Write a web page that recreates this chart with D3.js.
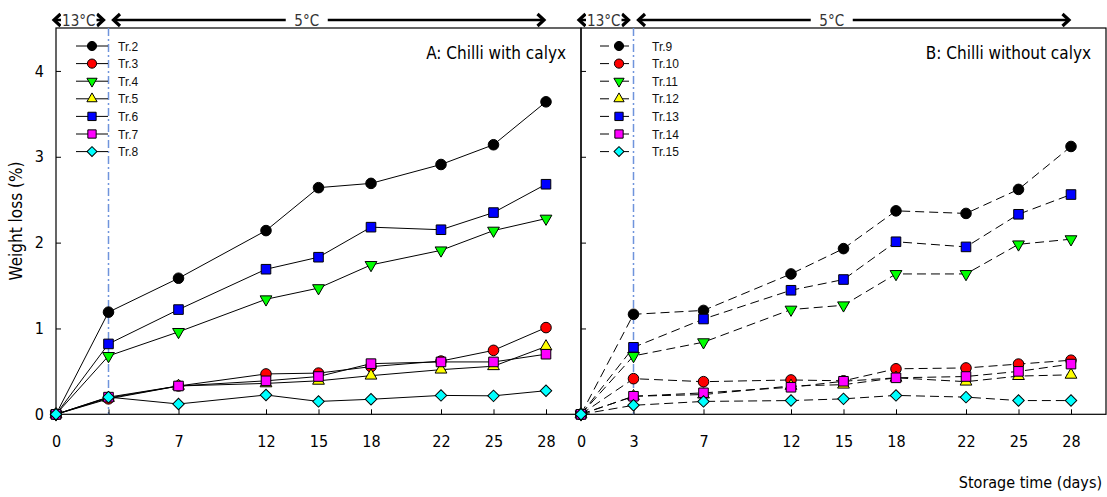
<!DOCTYPE html>
<html>
<head>
<meta charset="utf-8">
<script src="https://cdn.jsdelivr.net/npm/d3@7"></script>
<style>
  body { margin: 0; background: #fff; }
  svg { display: block; }
</style>
</head>
<body>
<svg id="chart"></svg>
<script>
// weight loss data
var days = [0, 3, 7, 12, 15, 18, 22, 25, 28];

// A: chilli with calyx
var tr2 = [0, 1.19, 1.585, 2.14, 2.64, 2.69, 2.91, 3.14, 3.64];
var tr3 = [0, 0.18, 0.33, 0.47, 0.48, 0.555, 0.62, 0.745, 1.01];
var tr4 = [0, 0.68, 0.96, 1.34, 1.47, 1.74, 1.91, 2.14, 2.28];
var tr5 = [0, 0.19, 0.33, 0.36, 0.39, 0.45, 0.52, 0.56, 0.79];
var tr6 = [0, 0.82, 1.22, 1.69, 1.83, 2.18, 2.15, 2.35, 2.68];
var tr7 = [0, 0.2, 0.33, 0.39, 0.44, 0.59, 0.61, 0.61, 0.70];
var tr8 = [0, 0.2, 0.12, 0.225, 0.15, 0.175, 0.22, 0.215, 0.275];

// B: chilli without calyx
var tr9  = [0, 1.165, 1.21, 1.635, 1.93, 2.37, 2.34, 2.62, 3.12];
var tr10 = [0, 0.415, 0.38, 0.40, 0.39, 0.53, 0.54, 0.585, 0.63];
var tr11 = [0, 0.68, 0.84, 1.22, 1.27, 1.635, 1.635, 1.98, 2.04];
var tr12 = [0, 0.21, 0.23, 0.33, 0.345, 0.425, 0.38, 0.445, 0.46];
var tr13 = [0, 0.78, 1.11, 1.445, 1.57, 2.01, 1.95, 2.33, 2.56];
var tr14 = [0, 0.21, 0.25, 0.315, 0.385, 0.425, 0.44, 0.50, 0.585];
var tr15 = [0, 0.105, 0.15, 0.16, 0.18, 0.22, 0.20, 0.16, 0.16];

var namesA = ['Tr.2', 'Tr.3', 'Tr.4', 'Tr.5', 'Tr.6', 'Tr.7', 'Tr.8'];
var namesB = ['Tr.9', 'Tr.10', 'Tr.11', 'Tr.12', 'Tr.13', 'Tr.14', 'Tr.15'];
var yTicks = [0, 1, 2, 3, 4];

var fills = ['#000000', '#ff0000', '#00ff00', '#ffff00', '#0000ff', '#ff00ff', '#00ffff'];
var shapes = ['circle', 'circle', 'down', 'up', 'square', 'square', 'diamond'];

var width = 1107;
var height = 497;
var plotTop = 28;
var plotBottom = 414.3;

var font = '"DejaVu Sans Condensed", "DejaVu Sans", sans-serif';

var svg = d3.select('#chart')
  .attr('width', width)
  .attr('height', height);

var yScale = d3.scaleLinear()
  .domain([0, 4.5])
  .range([plotBottom, plotTop]);

function markerPath(shape, s) {
  s = s || 1;
  if (shape === 'circle') return d3.symbol(d3.symbolCircle, 88 * s)();
  if (shape === 'square') return d3.symbol(d3.symbolSquare, 92 * s)();
  if (shape === 'up' || shape === 'down') return d3.symbol(d3.symbolTriangle, 60 * s)();
  return d3.symbol(d3.symbolSquare, 66 * s)();
}
function markerRotate(shape) {
  if (shape === 'down') return ' rotate(180)';
  if (shape === 'diamond') return ' rotate(45)';
  return '';
}

function arrow(g, x1, x2, y) {
  g.append('line')
    .attr('x1', x1).attr('x2', x2).attr('y1', y).attr('y2', y)
    .attr('stroke', '#000').attr('stroke-width', 2.5);
  g.append('path')
    .attr('d', `M${x1 + 6.5},${y - 6}L${x1},${y}L${x1 + 6.5},${y + 6}`)
    .attr('fill', 'none').attr('stroke', '#000').attr('stroke-width', 3.2);
  g.append('path')
    .attr('d', `M${x2 - 6.5},${y - 6}L${x2},${y}L${x2 - 6.5},${y + 6}`)
    .attr('fill', 'none').attr('stroke', '#000').attr('stroke-width', 3.2);
}

function panel(left, right, series, names, dashed, title, showLabels) {
  var xScale = d3.scaleLinear()
    .domain([0, 30])
    .range([left, right]);

  var g = svg.append('g');

  // 13 / 5 degree arrows above the frame
  var ay = 20;
  var a1 = xScale(0) - 2, a2 = xScale(3) - 5;
  var b1 = xScale(3) + 5, b2 = xScale(28) - 2;
  var mid = (b1 + b2) / 2 - 22;
  arrow(g, a1, a2, ay);
  g.append('rect')
    .attr('x', a1 + 7).attr('y', ay - 9).attr('width', a2 - a1 - 14).attr('height', 18)
    .attr('fill', '#fff');
  g.append('text')
    .attr('x', (a1 + a2) / 2).attr('y', ay + 5.5)
    .attr('text-anchor', 'middle')
    .style('font-family', font).style('font-size', '15px').attr('fill', '#333')
    .text('13\u00B0C');
  arrow(g, b1, b2, ay);
  g.append('rect')
    .attr('x', mid - 21).attr('y', ay - 9).attr('width', 42).attr('height', 18)
    .attr('fill', '#fff');
  g.append('text')
    .attr('x', mid).attr('y', ay + 5.5)
    .attr('text-anchor', 'middle')
    .style('font-family', font).style('font-size', '15px').attr('fill', '#333')
    .text('5\u00B0C');

  // frame
  g.append('rect')
    .attr('x', left).attr('y', plotTop)
    .attr('width', right - left).attr('height', plotBottom - plotTop)
    .attr('fill', 'none').attr('stroke', '#000').attr('stroke-width', 1.2);

  // day 3 reference line
  g.append('line')
    .attr('x1', xScale(3)).attr('x2', xScale(3))
    .attr('y1', plotTop).attr('y2', plotBottom)
    .attr('stroke', '#6f94dc').attr('stroke-width', 1.5)
    .attr('stroke-dasharray', '8,3,2,3');

  var xAxis = d3.axisBottom(xScale)
    .tickValues(days)
    .tickSize(-5)
    .tickPadding(21);
  var gx = g.append('g')
    .attr('transform', `translate(0,${plotBottom})`)
    .call(xAxis);
  gx.select('.domain').remove();
  gx.selectAll('text').style('font-family', font).style('font-size', '16px').attr('fill', '#000');

  var yAxis = d3.axisLeft(yScale)
    .tickValues(yTicks)
    .tickSize(-5)
    .tickPadding(12)
    .tickFormat(showLabels ? d3.format('d') : '');
  var gy = g.append('g')
    .attr('transform', `translate(${left},0)`)
    .call(yAxis);
  gy.select('.domain').remove();
  gy.selectAll('text').style('font-family', font).style('font-size', '16px').attr('fill', '#000');

  var line = d3.line()
    .x((d, i) => xScale(days[i]))
    .y(d => yScale(d));

  series.forEach(function (vals, k) {
    g.append('path')
      .datum(vals)
      .attr('d', line)
      .attr('fill', 'none')
      .attr('stroke', '#000')
      .attr('stroke-width', 1)
      .attr('stroke-dasharray', dashed ? '9,5' : null);
  });

  series.forEach(function (vals, k) {
    g.selectAll(null)
      .data(vals)
      .enter()
      .append('path')
      .attr('d', markerPath(shapes[k]))
      .attr('transform', (d, i) => `translate(${xScale(days[i])},${yScale(d)})` + markerRotate(shapes[k]))
      .attr('fill', fills[k])
      .attr('stroke', '#000')
      .attr('stroke-width', 1);
  });

  // legend
  var lx = xScale(0) + (dashed ? 19 : 20);
  var lw = dashed ? 38 : 32;
  names.forEach(function (name, k) {
    var ly = 46 + k * 17.6;
    var row = g.append('g');
    row.append('line')
      .attr('x1', lx).attr('x2', lx + lw).attr('y1', ly).attr('y2', ly)
      .attr('stroke', '#000').attr('stroke-width', 1)
      .attr('stroke-dasharray', dashed ? '9,11' : null);
    row.append('path')
      .attr('d', markerPath(shapes[k], 0.75))
      .attr('transform', `translate(${lx + lw / 2},${ly})` + markerRotate(shapes[k]))
      .attr('fill', fills[k])
      .attr('stroke', '#000')
      .attr('stroke-width', 1);
    row.append('text')
      .attr('x', lx + lw + (dashed ? 14 : 10))
      .attr('y', ly + 4.5)
      .style('font-family', '"Liberation Sans", Arial, sans-serif')
      .style('font-size', '12px')
      .attr('fill', '#111')
      .text(name);
  });

  g.append('text')
    .attr('x', right - 15)
    .attr('y', 59)
    .attr('text-anchor', 'end')
    .style('font-family', font)
    .style('font-size', '17px')
    .attr('fill', '#000')
    .text(title);
}

panel(56, 581, [tr2, tr3, tr4, tr5, tr6, tr7, tr8], namesA, false, 'A: Chilli with calyx', true);
panel(581, 1106, [tr9, tr10, tr11, tr12, tr13, tr14, tr15], namesB, true, 'B: Chilli without calyx', false);

svg.append('text')
  .attr('transform', 'translate(22,221) rotate(-90)')
  .attr('text-anchor', 'middle')
  .style('font-family', font)
  .style('font-size', '17px')
  .text('Weight loss (%)');

svg.append('text')
  .attr('x', 1102)
  .attr('y', 488)
  .attr('text-anchor', 'end')
  .style('font-family', font)
  .style('font-size', '16px')
  .text('Storage time (days)');
</script>
</body>
</html>
